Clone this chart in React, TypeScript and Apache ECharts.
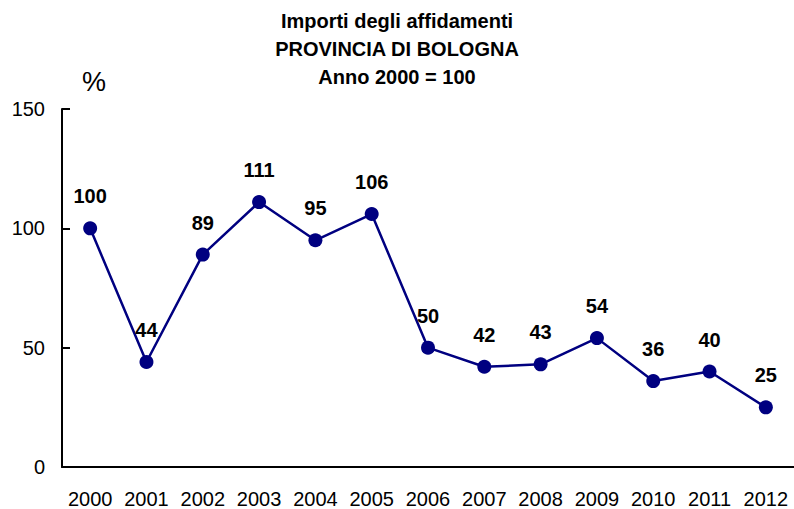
import React, { useEffect, useRef } from "react";
import * as echarts from "echarts";

const years = ["2000", "2001", "2002", "2003", "2004", "2005", "2006", "2007", "2008", "2009", "2010", "2011", "2012"];
const values = [100, 44, 89, 111, 95, 106, 50, 42, 43, 54, 36, 40, 25];
const titleLines = ["Importi degli affidamenti", "PROVINCIA DI BOLOGNA", "Anno 2000 = 100"];
const unitLabel = "%";

const FONT = "'Liberation Sans', Arial, Helvetica, sans-serif";

export default function App() {
  const ref = useRef<HTMLDivElement>(null);
  useEffect(() => {
    document.body.style.margin = "0";
    if (!ref.current) return;
    const chart = echarts.init(ref.current, undefined, { renderer: "svg" });
    chart.setOption({
      animation: false,
      backgroundColor: "#ffffff",
      title: {
        text: titleLines.join("\n"),
        left: "center",
        top: 7,
        padding: 0,
        textStyle: {
          fontFamily: FONT,
          fontSize: 20,
          fontWeight: "bold",
          color: "#000",
          lineHeight: 28,
        },
      },
      graphic: [
        {
          type: "text",
          left: 82,
          top: 68,
          style: { text: unitLabel, fontFamily: FONT, fontSize: 27, fill: "#000" },
        },
      ],
      grid: { left: 62, top: 109, width: 734, height: 359, containLabel: false },
      xAxis: {
        type: "category",
        data: years,
        boundaryGap: true,
        axisLine: { lineStyle: { color: "#000", width: 2 } },
        axisTick: { inside: true, length: 7, lineStyle: { color: "#000", width: 2 } },
        axisLabel: { color: "#000", fontFamily: FONT, fontSize: 20, margin: 22, interval: 0 },
        splitLine: { show: false },
      },
      yAxis: {
        type: "value",
        min: 0,
        max: 150,
        interval: 50,
        axisLine: { show: true, lineStyle: { color: "#000", width: 2 } },
        axisTick: { show: true, inside: true, length: 8, lineStyle: { color: "#000", width: 2 } },
        axisLabel: { color: "#000", fontFamily: FONT, fontSize: 20, margin: 17 },
        splitLine: { show: false },
      },
      series: [
        {
          type: "line",
          data: values,
          symbol: "circle",
          symbolSize: 14,
          lineStyle: { color: "#000080", width: 2.5 },
          itemStyle: { color: "#000080" },
          label: {
            show: true,
            position: "top",
            distance: 15,
            color: "#000",
            fontFamily: FONT,
            fontSize: 20,
            fontWeight: "bold",
          },
        },
      ],
    });
    return () => chart.dispose();
  }, []);
  return <div ref={ref} style={{ width: 794, height: 509 }} />;
}
